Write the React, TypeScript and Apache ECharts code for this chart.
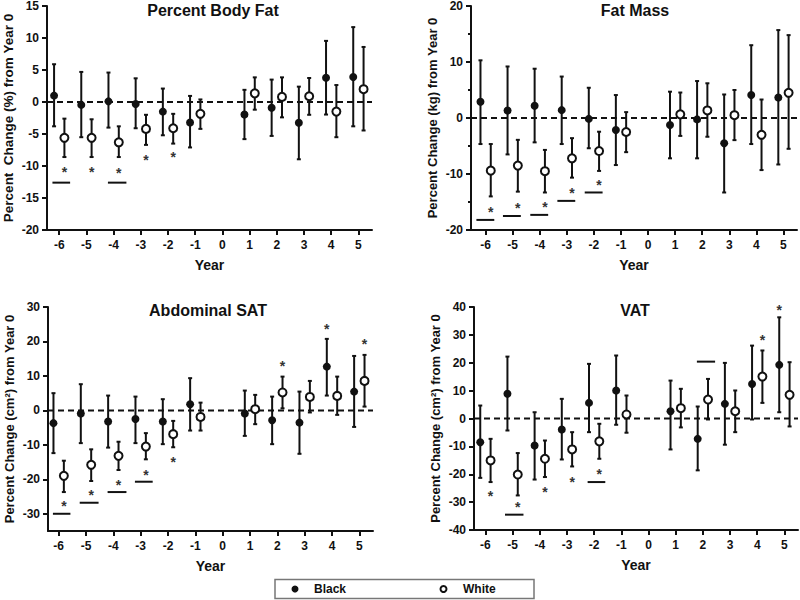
import React, { useEffect, useRef } from 'react';
import * as echarts from 'echarts';

const years = [-6, -5, -4, -3, -2, -1, 1, 2, 3, 4, 5];
const xTicks = [-6, -5, -4, -3, -2, -1, 0, 1, 2, 3, 4, 5];

// Panel 1: Percent Body Fat
const pbfBlackMean = [1.0, -0.45, 0.1, -0.3, -1.5, -3.2, -1.96, -0.9, -3.25, 3.8, 3.9];
const pbfBlackLow = [-3.8, -5.5, -4.0, -4.1, -5.2, -7.1, -5.8, -5.3, -8.95, -1.96, -3.8];
const pbfBlackHigh = [5.9, 4.7, 4.6, 3.7, 2.1, 0.95, 1.9, 3.5, 2.4, 9.55, 11.7];
const pbfWhiteMean = [-5.6, -5.6, -6.3, -4.2, -4.1, -1.85, 1.35, 0.8, 0.9, -1.5, 2.0];
const pbfWhiteLow = [-8.6, -8.6, -8.6, -6.7, -6.5, -4.2, -1.2, -2.4, -2.0, -5.5, -4.45];
const pbfWhiteHigh = [-2.6, -2.7, -3.8, -2.0, -1.85, 0.4, 3.85, 3.85, 3.75, 2.65, 8.6];
const pbfStars = [[-5.81, -10.5], [-4.81, -10.5], [-3.81, -10.7], [-2.81, -8.6], [-1.81, -8.2]];
const pbfBars = [[-6.25, -5.6, -12.6], [-4.21, -3.53, -12.6]];

// Panel 2: Fat Mass
const fmBlackMean = [2.9, 1.35, 2.2, 1.4, -0.15, -2.15, -1.25, -0.25, -4.5, 4.1, 3.65];
const fmBlackLow = [-4.65, -6.5, -4.35, -4.65, -5.4, -8.4, -7.2, -7.2, -13.3, -4.65, -8.3];
const fmBlackHigh = [10.3, 9.2, 8.8, 7.4, 5.4, 4.1, 4.7, 6.6, 4.2, 13.0, 15.7];
const fmWhiteMean = [-9.4, -8.5, -9.5, -7.2, -5.9, -2.5, 0.65, 1.35, 0.5, -3.0, 4.5];
const fmWhiteLow = [-14.0, -13.15, -13.3, -10.65, -9.45, -6.1, -3.2, -3.35, -3.95, -9.3, -5.5];
const fmWhiteHigh = [-4.65, -3.9, -5.7, -3.6, -2.45, 1.05, 4.55, 6.2, 5.0, 3.3, 14.8];
const fmStars = [[-5.81, -16.3], [-4.81, -15.5], [-3.81, -15.35], [-2.81, -12.9], [-1.81, -11.4]];
const fmBars = [[-6.34, -5.68, -18.2], [-5.36, -4.7, -17.5], [-4.35, -3.69, -17.3], [-3.35, -2.69, -14.8], [-2.34, -1.68, -13.3]];

// Panel 3: Abdominal SAT
const satBlackMean = [-3.7, -0.9, -3.25, -2.5, -3.25, 1.8, -0.9, -2.85, -3.55, 12.7, 5.45];
const satBlackLow = [-12.4, -9.5, -10.8, -9.5, -9.8, -5.85, -7.4, -9.8, -12.6, 4.3, -4.8];
const satBlackHigh = [5.0, 7.6, 4.3, 4.0, 3.25, 9.35, 5.75, 4.0, 5.45, 20.75, 15.8];
const satWhiteMean = [-19.0, -15.8, -13.2, -10.5, -6.9, -1.9, 0.35, 5.2, 3.9, 4.2, 8.55];
const satWhiteLow = [-23.7, -20.5, -17.3, -14.2, -10.7, -5.85, -4.0, 0.6, -0.6, -1.3, 1.1];
const satWhiteHigh = [-14.6, -11.3, -9.1, -6.6, -3.05, 2.25, 4.5, 9.8, 8.55, 9.8, 16.1];
const satStars = [[-5.81, -26.8], [-4.81, -23.7], [-3.81, -20.7], [-2.81, -17.8], [-1.81, -14.1], [2.19, 13.7], [3.81, 24.5], [5.19, 20.25]];
const satBars = [[-6.21, -5.57, -30.0], [-5.23, -4.54, -26.8], [-4.21, -3.52, -23.7], [-3.21, -2.56, -20.7]];

// Panel 4: VAT
const vatBlackMean = [-8.5, 8.85, -9.7, -3.95, 5.6, 10.05, 2.6, -7.3, 5.25, 12.4, 19.25];
const vatBlackLow = [-21.3, -4.3, -21.9, -14.7, -4.9, -2.25, -11.1, -18.6, -9.4, -0.35, 2.25];
const vatBlackHigh = [4.65, 22.2, 2.25, 7.05, 19.6, 22.6, 13.6, 4.3, 19.95, 26.15, 36.3];
const vatWhiteMean = [-15.05, -20.1, -14.45, -11.1, -8.2, 1.45, 3.7, 6.8, 2.6, 15.05, 8.5];
const vatWhiteLow = [-22.8, -27.6, -21.0, -17.2, -14.45, -5.1, -3.2, -0.35, -4.9, 5.6, -2.85];
const vatWhiteHigh = [-7.3, -12.4, -7.9, -4.9, -1.9, 8.25, 10.65, 14.2, 10.05, 24.4, 20.2];
const vatStars = [[-5.81, -26.6], [-4.81, -30.8], [-3.81, -25.2], [-2.81, -21.6], [-1.81, -18.9], [4.19, 29.4], [4.81, 40.1]];
const vatBars = [[-5.28, -4.6, -34.5], [-2.24, -1.59, -22.8], [1.78, 2.45, 20.4]];

const FONT = 'Liberation Sans, Arial, sans-serif';
const INK = '#111';
const OFF = 0.19;

const panels = [
  {
    title: 'Percent Body Fat', yName: 'Percent  Change (%) from Year 0', nameSize: 13.5,
    grid: { left: 47, top: 5, width: 325, height: 225 }, xMin: -6.45, xMax: 5.5,
    yMin: -20, yMax: 15, yTicks: [-20, -15, -10, -5, 0, 5, 10, 15], minor: false,
    titleX: 213, titleY: 10,
    bm: pbfBlackMean, bl: pbfBlackLow, bh: pbfBlackHigh, wm: pbfWhiteMean, wl: pbfWhiteLow, wh: pbfWhiteHigh,
    stars: pbfStars, bars: pbfBars,
  },
  {
    title: 'Fat Mass', yName: 'Percent Change (kg) from Year 0', nameSize: 13,
    grid: { left: 471, top: 6, width: 326, height: 224 }, xMin: -6.54, xMax: 5.5,
    yMin: -20, yMax: 20, yTicks: [-20, -10, 0, 10, 20], minor: true,
    titleX: 635, titleY: 10,
    bm: fmBlackMean, bl: fmBlackLow, bh: fmBlackHigh, wm: fmWhiteMean, wl: fmWhiteLow, wh: fmWhiteHigh,
    stars: fmStars, bars: fmBars,
  },
  {
    title: 'Abdominal SAT', yName: 'Percent Change (cm²) from Year 0', nameSize: 13,
    grid: { left: 48, top: 307, width: 325, height: 224 }, xMin: -6.39, xMax: 5.5,
    yMin: -35, yMax: 30, yTicks: [-30, -20, -10, 0, 10, 20, 30], minor: false,
    titleX: 208, titleY: 310,
    bm: satBlackMean, bl: satBlackLow, bh: satBlackHigh, wm: satWhiteMean, wl: satWhiteLow, wh: satWhiteHigh,
    stars: satStars, bars: satBars,
  },
  {
    title: 'VAT', yName: 'Percent Change (cm²) from Year 0', nameSize: 13,
    grid: { left: 474, top: 307, width: 324, height: 223 }, xMin: -6.42, xMax: 5.5,
    yMin: -40, yMax: 40, yTicks: [-40, -30, -20, -10, 0, 10, 20, 30, 40], minor: true,
    titleX: 635, titleY: 310,
    bm: vatBlackMean, bl: vatBlackLow, bh: vatBlackHigh, wm: vatWhiteMean, wl: vatWhiteLow, wh: vatWhiteHigh,
    stars: vatStars, bars: vatBars,
  },
];

function errRender(params: any, api: any) {
  const x = api.value(0);
  const lo = api.value(1);
  const hi = api.value(2);
  const t = api.coord([x, hi]);
  const b = api.coord([x, lo]);
  const cap = 2;
  const st = { stroke: INK, lineWidth: 2 };
  return {
    type: 'group',
    children: [
      { type: 'line', shape: { x1: t[0], y1: t[1], x2: b[0], y2: b[1] }, style: st },
      { type: 'line', shape: { x1: t[0] - cap, y1: t[1], x2: t[0] + cap, y2: t[1] }, style: st },
      { type: 'line', shape: { x1: b[0] - cap, y1: b[1], x2: b[0] + cap, y2: b[1] }, style: st },
    ],
  };
}

function barRender(params: any, api: any) {
  const a = api.coord([api.value(0), api.value(2)]);
  const b = api.coord([api.value(1), api.value(2)]);
  return { type: 'line', shape: { x1: a[0], y1: a[1], x2: b[0], y2: b[1] }, style: { stroke: INK, lineWidth: 2 } };
}

function starRender(params: any, api: any) {
  const p = api.coord([api.value(0), api.value(1)]);
  return {
    type: 'text', x: p[0], y: p[1] + 3,
    style: { text: '*', fill: '#333', font: `bold 14px ${FONT}`, textAlign: 'center', textVerticalAlign: 'middle' },
  };
}

function zeroRender(params: any, api: any) {
  const cs = params.coordSys;
  const p = api.coord([0, 0]);
  return {
    type: 'line',
    shape: { x1: cs.x, y1: p[1], x2: cs.x + cs.width, y2: p[1] },
    style: { stroke: INK, lineWidth: 2, lineDash: [6, 4] },
  };
}

export default function App() {
  const ref = useRef<HTMLDivElement>(null);
  useEffect(() => {
    if (!ref.current) return;
    const chart = echarts.init(ref.current, undefined, { renderer: 'svg' });
    const labelStyle = { color: INK, fontWeight: 'bold' as const, fontSize: 12, fontFamily: FONT };
    const grid: any[] = [];
    const xAxis: any[] = [];
    const yAxis: any[] = [];
    const series: any[] = [];
    const graphic: any[] = [];
    panels.forEach((p, i) => {
      grid.push({ ...p.grid, containLabel: false });
      xAxis.push({
        type: 'value', gridIndex: i, min: p.xMin, max: p.xMax,
        name: 'Year', nameLocation: 'middle', nameGap: 28,
        nameTextStyle: { color: INK, fontWeight: 'bold', fontSize: 14, fontFamily: FONT },
        axisLine: { show: true, onZero: false, lineStyle: { color: INK, width: 2 } },
        axisTick: { show: true, customValues: xTicks, length: 5, lineStyle: { color: INK, width: 2 } },
        axisLabel: { ...labelStyle, customValues: xTicks, margin: 9 },
        splitLine: { show: false },
      });
      yAxis.push({
        type: 'value', gridIndex: i, min: p.yMin, max: p.yMax,
        name: p.yName, nameLocation: 'middle', nameGap: 32, nameRotate: 90,
        nameTextStyle: { color: INK, fontWeight: 'bold', fontSize: p.nameSize, fontFamily: FONT },
        axisLine: { show: true, onZero: false, lineStyle: { color: INK, width: 2 } },
        axisTick: { show: true, customValues: p.yTicks, length: 5, lineStyle: { color: INK, width: 2 } },
        minorTick: { show: p.minor, splitNumber: 2, length: 3, lineStyle: { color: INK, width: 2 } },
        axisLabel: { ...labelStyle, customValues: p.yTicks, margin: 8 },
        splitLine: { show: false },
        minorSplitLine: { show: false },
      });
      series.push({
        type: 'custom', xAxisIndex: i, yAxisIndex: i, renderItem: zeroRender, data: [[0, 0]],
        encode: { x: 0, y: 1 }, z: 1, silent: true,
      });
      series.push({
        type: 'custom', name: 'Black', xAxisIndex: i, yAxisIndex: i, renderItem: errRender,
        data: years.map((y, k) => [y - OFF, p.bl[k], p.bh[k]]), encode: { x: 0, y: [1, 2] }, z: 2,
      });
      series.push({
        type: 'custom', name: 'White', xAxisIndex: i, yAxisIndex: i, renderItem: errRender,
        data: years.map((y, k) => [y + OFF, p.wl[k], p.wh[k]]), encode: { x: 0, y: [1, 2] }, z: 2,
      });
      series.push({
        type: 'scatter', name: 'Black', xAxisIndex: i, yAxisIndex: i, symbol: 'circle', symbolSize: 8,
        itemStyle: { color: INK, opacity: 1 }, data: years.map((y, k) => [y - OFF, p.bm[k]]), z: 4,
      });
      series.push({
        type: 'scatter', name: 'White', xAxisIndex: i, yAxisIndex: i, symbol: 'circle', symbolSize: 8,
        itemStyle: { color: '#fff', borderColor: INK, borderWidth: 2, opacity: 1 },
        data: years.map((y, k) => [y + OFF, p.wm[k]]), z: 4,
      });
      series.push({
        type: 'custom', xAxisIndex: i, yAxisIndex: i, renderItem: starRender, clip: false,
        data: p.stars, encode: { x: 0, y: 1 }, z: 5,
      });
      series.push({
        type: 'custom', xAxisIndex: i, yAxisIndex: i, renderItem: barRender, clip: false,
        data: p.bars, encode: { x: [0, 1], y: 2 }, z: 5,
      });
      graphic.push({
        type: 'text', x: p.titleX, y: p.titleY,
        style: { text: p.title, fill: INK, font: `bold 16px ${FONT}`, textAlign: 'center', textVerticalAlign: 'middle' },
      });
    });
    // legend box
    graphic.push({ type: 'rect', shape: { x: 275, y: 579.5, width: 259, height: 19 }, style: { fill: 'none', stroke: '#777', lineWidth: 1.5 } });
    graphic.push({ type: 'circle', shape: { cx: 295, cy: 589, r: 3.5 }, style: { fill: INK } });
    graphic.push({ type: 'text', x: 314, y: 589, style: { text: 'Black', fill: INK, font: `bold 12px ${FONT}`, textVerticalAlign: 'middle' } });
    graphic.push({ type: 'circle', shape: { cx: 443.5, cy: 589, r: 3 }, style: { fill: '#fff', stroke: INK, lineWidth: 2 } });
    graphic.push({ type: 'text', x: 463, y: 589, style: { text: 'White', fill: INK, font: `bold 12px ${FONT}`, textVerticalAlign: 'middle' } });

    chart.setOption({
      animation: false,
      backgroundColor: '#fff',
      textStyle: { fontFamily: FONT },
      grid, xAxis, yAxis, series, graphic,
    });
    return () => chart.dispose();
  }, []);
  return <div ref={ref} style={{ position: 'fixed', left: 0, top: 0, width: 800, height: 600 }} />;
}
